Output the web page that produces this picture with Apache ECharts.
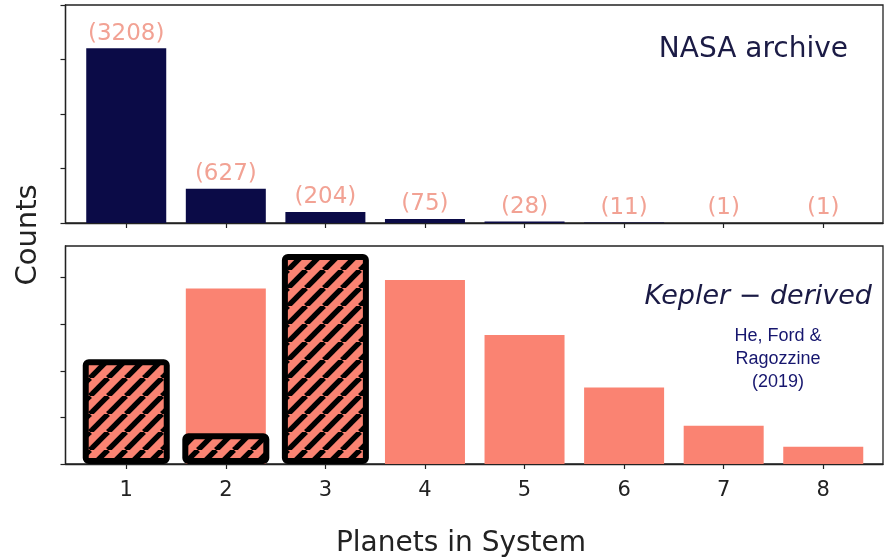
<!DOCTYPE html>
<html>
<head>
<meta charset="utf-8">
<script src="https://cdn.jsdelivr.net/npm/echarts@6/dist/echarts.min.js"></script>
<style>
  html, body { margin: 0; padding: 0; background: #fff; }
  #chart { width: 885px; height: 560px; }
</style>
</head>
<body>
<div id="chart"></div>
<script>
// Planet multiplicity: number of systems with N planets
const planets = [1, 2, 3, 4, 5, 6, 7, 8];
const nasaCounts = [3208, 627, 204, 75, 28, 11, 1, 1];
// Kepler-derived distribution (arbitrary units; one y tick = 1)
const keplerDerived = [null, 3.77, null, 3.95, 2.77, 1.64, 0.82, 0.37];
const keplerHatched = [2.25, 0.66, 4.51, null, null, null, null, null];
const nasaTicks = [0, 1000, 2000, 3000, 4000];
const keplerTicks = [0, 1, 2, 3, 4];

const NAVY = '#0b0b47';
const SALMON = '#fa8372';
const INK = '#222';

function pairs(values) {
  const out = [];
  values.forEach((v, i) => { if (v !== null) out.push([planets[i], v]); });
  return out;
}

// diagonal "/" hatch tile over salmon
function hatchPattern() {
  const p = 18, c = document.createElement('canvas');
  c.width = p; c.height = p;
  const g = c.getContext('2d');
  g.fillStyle = SALMON; g.fillRect(0, 0, p, p);
  g.strokeStyle = '#000'; g.lineWidth = 5.4; g.lineCap = 'butt';
  for (const x0 of [-p, 0, p]) {
    g.beginPath(); g.moveTo(x0, p); g.lineTo(x0 + p, 0); g.stroke();
  }
  return { image: c, repeat: 'repeat' };
}

const chart = echarts.init(document.getElementById('chart'), null, { renderer: 'canvas' });

const frame = { show: true, borderColor: INK, borderWidth: 1.3, backgroundColor: 'transparent' };
const gridTop = Object.assign({ left: 65.5, right: 2, top: 5, height: 218 }, frame);
const gridBot = Object.assign({ left: 65.5, right: 2, top: 246, height: 218 }, frame);

function xAxis(gridIndex, showLabels, visible) {
  return {
    type: 'value', gridIndex, min: 0.39, max: 8.6, show: visible !== false,
    axisLine: { show: true, lineStyle: { color: INK, width: 1.3 } },
    axisTick: { show: true, inside: false, length: 5, lineStyle: { color: INK, width: 1.2 }, customValues: planets },
    axisLabel: { show: showLabels, customValues: planets, margin: 16, fontSize: 21,
                 fontFamily: 'DejaVu Sans', color: INK },
    splitLine: { show: false }
  };
}
function yAxis(gridIndex, max, ticks) {
  return {
    type: 'value', gridIndex, min: 0, max,
    axisLine: { show: true, lineStyle: { color: INK, width: 1.3 } },
    axisTick: { show: true, inside: false, length: 5, lineStyle: { color: INK, width: 1.2 }, customValues: ticks },
    axisLabel: { show: false, customValues: ticks },
    splitLine: { show: false }
  };
}

chart.setOption({
  animation: false,
  backgroundColor: '#fff',
  grid: [gridTop, gridBot],
  // third x axis shares the lower panel so the outlined bars lay out on their own
  xAxis: [xAxis(0, false), xAxis(1, true), xAxis(1, false, false)],
  yAxis: [yAxis(0, 4000, nasaTicks), yAxis(1, 4.68, keplerTicks)],
  series: [
    {
      name: 'NASA archive', type: 'bar', xAxisIndex: 0, yAxisIndex: 0,
      data: pairs(nasaCounts), barWidth: 80,
      itemStyle: { color: NAVY },
      label: {
        show: true, position: 'top', distance: 3,
        formatter: p => '(' + p.value[1] + ')',
        fontFamily: 'DejaVu Sans', fontSize: 23, color: '#f2a294'
      }
    },
    {
      name: 'Kepler-derived', type: 'bar', xAxisIndex: 1, yAxisIndex: 1,
      data: pairs(keplerDerived), barWidth: 80,
      itemStyle: { color: SALMON }
    },
    {
      name: 'Kepler-derived (hatched)', type: 'bar', xAxisIndex: 2, yAxisIndex: 1,
      data: pairs(keplerHatched), barWidth: 87,
      itemStyle: { color: hatchPattern(), borderColor: '#000', borderWidth: 6, borderRadius: 3 }
    }
  ],
  graphic: [
    { type: 'text', x: 848, y: 50, style: {
        text: 'NASA archive', font: '28px "DejaVu Sans"', fill: '#1b1b45',
        textAlign: 'right', textVerticalAlign: 'middle' } },
    { type: 'text', x: 872, y: 297, style: {
        text: 'Kepler − derived', font: 'italic 27px "DejaVu Sans"', fill: '#1a1a45',
        textAlign: 'right', textVerticalAlign: 'middle' } },
    { type: 'text', x: 778, y: 359, style: {
        text: 'He, Ford &\nRagozzine\n(2019)', font: '18px "Liberation Sans"', fill: '#16166e',
        lineHeight: 23, textAlign: 'center', textVerticalAlign: 'middle' } },
    { type: 'text', x: 28, y: 235, rotation: Math.PI / 2, style: {
        text: 'Counts', font: '29px "DejaVu Sans"', fill: INK,
        textAlign: 'center', textVerticalAlign: 'middle' } },
    { type: 'text', x: 461, y: 544, style: {
        text: 'Planets in System', font: '28px "DejaVu Sans"', fill: INK,
        textAlign: 'center', textVerticalAlign: 'middle' } }
  ]
});
</script>
</body>
</html>
